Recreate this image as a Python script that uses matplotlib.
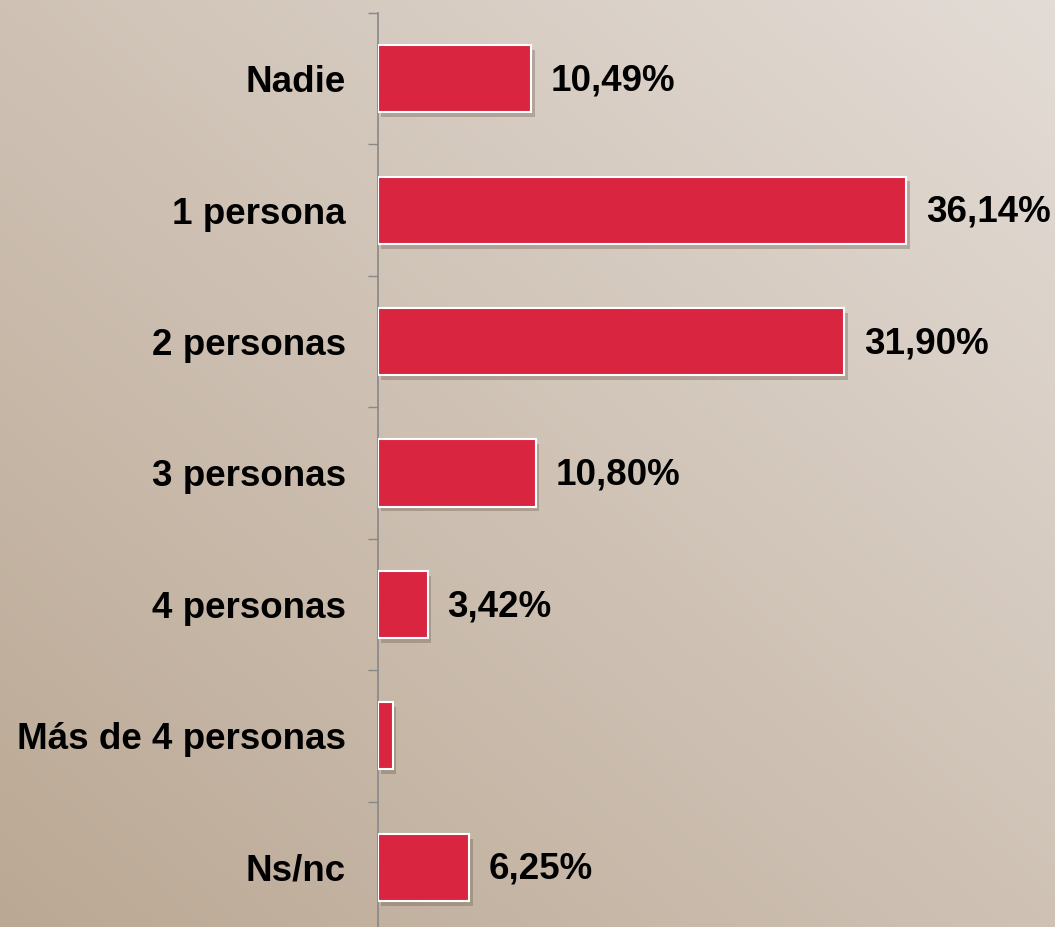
import numpy as np
import matplotlib.pyplot as plt
import matplotlib.patheffects as pe

categories = ["Nadie", "1 persona", "2 personas", "3 personas", "4 personas",
              "Más de 4 personas", "Ns/nc"]
values = [10.49, 36.14, 31.90, 10.80, 3.42, 1.00, 6.25]
labels = ["10,49%", "36,14%", "31,90%", "10,80%", "3,42%", "", "6,25%"]

plt.rcParams['font.family'] = ['Liberation Sans', 'DejaVu Sans']

fig = plt.figure(figsize=(10.55, 9.27), dpi=100)

# diagonal background gradient, light top-right to darker bottom-left
bg = fig.add_axes([0, 0, 1, 1], zorder=0)
xx, yy = np.meshgrid(np.linspace(0, 1, 200), np.linspace(0, 1, 200))
t = xx * 0.5 + yy * 0.5
c_dark = np.array([0xbb, 0xa8, 0x94]) / 255
c_light = np.array([0xe3, 0xdc, 0xd6]) / 255
img = c_dark[None, None, :] + (c_light - c_dark)[None, None, :] * t[..., None]
bg.imshow(img, extent=[0, 1, 0, 1], aspect='auto', origin='lower')
bg.axis('off')

ax = fig.add_axes([378 / 1055, -6 / 927, 1 - 378 / 1055, 920 / 927], zorder=1)
ax.patch.set_alpha(0)

y = np.arange(len(categories))
bars = ax.barh(y, values, height=0.51, color="#da2540", edgecolor="white",
               linewidth=1.5, zorder=3)
for b in bars:
    b.set_path_effects([pe.SimplePatchShadow(offset=(2.5, -3.5), shadow_rgbFace='#5a4a3a', alpha=0.3),
                        pe.Normal()])

for yi, v, lab in zip(y, values, labels):
    if lab:
        ax.annotate(lab, (v, yi), xytext=(14, -1.5), textcoords='offset points',
                    va='center', ha='left', fontsize=26.5, fontweight='bold')

ax.set_ylim(len(categories) - 0.5, -0.5)
ax.set_xlim(0, (1055 - 378) / 14.62)
ax.set_yticks(y)
ax.set_yticklabels(categories, fontsize=26.5, fontweight='bold')
for t_ in ax.get_yticklabels():
    t_.set_y(t_.get_position()[1])
ax.set_yticks(np.arange(-0.5, len(categories), 1), minor=True)
ax.tick_params(axis='y', which='major', length=0, pad=23)
ax.tick_params(axis='y', which='minor', length=7.5, width=1, color='#888888')
ax.set_xticks([])
for s in ['top', 'right', 'bottom']:
    ax.spines[s].set_visible(False)
ax.spines['left'].set_color('#888888')
ax.spines['left'].set_linewidth(1.2)

fig.savefig("out.png", dpi=100)
